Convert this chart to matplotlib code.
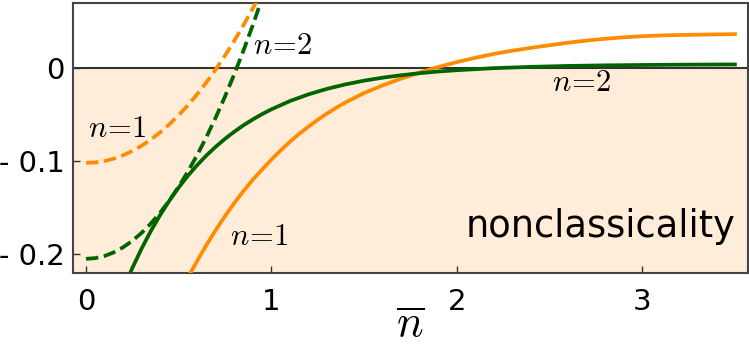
import matplotlib
matplotlib.use("Agg")
from matplotlib import pyplot as plt
from matplotlib.ticker import FixedLocator, FixedFormatter

plt.rcParams["mathtext.fontset"] = "cm"

# ------------------------------------------------------------------------------
#  Data
# ------------------------------------------------------------------------------

# dashed curves, n=1 (orange) and n=2 (green)
x_dash = [0.00, 0.05, 0.10, 0.15, 0.20, 0.25, 0.30, 0.35, 0.40, 0.45,
          0.50, 0.55, 0.60, 0.65, 0.70, 0.75, 0.80, 0.85, 0.90, 0.95]
y_dash_n1 = [-0.1020, -0.1015, -0.1000, -0.0974, -0.0938, -0.0892, -0.0836,
             -0.0769, -0.0692, -0.0605, -0.0508, -0.0400, -0.0282, -0.0154,
             -0.0016, 0.0133, 0.0292, 0.0461, 0.0640, 0.0830]
y_dash_n2 = [-0.2050, -0.2042, -0.2019, -0.1980, -0.1926, -0.1856, -0.1771,
             -0.1670, -0.1554, -0.1422, -0.1275, -0.1112, -0.0934, -0.0740,
             -0.0531, -0.0306, -0.0066, 0.0190, 0.0461, 0.0748]

# solid curve, n=2 (green)
x_sol_n2 = [0.20, 0.25, 0.30, 0.35, 0.40, 0.45, 0.50, 0.55, 0.60, 0.65,
            0.70, 0.75, 0.80, 0.85, 0.90, 0.95, 1.00, 1.10, 1.20, 1.30,
            1.40, 1.50, 1.60, 1.70, 1.80, 1.90, 2.00, 2.20, 2.40, 2.60,
            2.80, 3.00, 3.20, 3.50]
y_sol_n2 = [-0.2380, -0.2148, -0.1939, -0.1750, -0.1579, -0.1424, -0.1284,
            -0.1157, -0.1043, -0.0939, -0.0846, -0.0761, -0.0685, -0.0615,
            -0.0553, -0.0496, -0.0445, -0.0356, -0.0284, -0.0225, -0.0177,
            -0.0137, -0.0105, -0.0079, -0.0057, -0.0039, -0.0025, -0.0003,
            0.0011, 0.0021, 0.0027, 0.0031, 0.0034, 0.0037]

# solid curve, n=1 (orange)
x_sol_n1 = [0.50, 0.55, 0.60, 0.65, 0.70, 0.75, 0.80, 0.85, 0.90, 0.95,
            1.00, 1.05, 1.10, 1.15, 1.20, 1.25, 1.30, 1.35, 1.40, 1.50,
            1.60, 1.70, 1.80, 1.90, 2.00, 2.10, 2.20, 2.30, 2.40, 2.50,
            2.60, 2.70, 2.80, 2.90, 3.00, 3.10, 3.20, 3.35, 3.50]
y_sol_n1 = [-0.2430, -0.2250, -0.2070, -0.1900, -0.1740, -0.1590, -0.1450,
            -0.1320, -0.1200, -0.1090, -0.0985, -0.0885, -0.0793, -0.0708,
            -0.0630, -0.0557, -0.0490, -0.0428, -0.0370, -0.0270, -0.0188,
            -0.0115, -0.0050, 0.0010, 0.0062, 0.0108, 0.0150, 0.0185, 0.0215,
            0.0243, 0.0270, 0.0293, 0.0313, 0.0328, 0.0340, 0.0348, 0.0353,
            0.0358, 0.0362]

y_ticks = [-0.2, -0.1, 0.0]
y_ticklabels = ["- 0.2", "- 0.1", "0"]
x_ticks = [0, 1, 2, 3]

# ------------------------------------------------------------------------------
#  Plot
# ------------------------------------------------------------------------------

fig = plt.figure(figsize=(7.49, 3.48), dpi=100)
ax = fig.add_axes([0.0975, 0.216, 0.901, 0.775])

x_min, x_max = -0.07, 3.57
y_min, y_max = -0.22, 0.0695

ax.axhspan(y_min - 1, 0, color="darkorange", alpha=0.15, lw=0, zorder=0)
ax.axhline(0, color="#333333", lw=1.5, zorder=1)

lw = 2.7
dash = (3.3, 1.5)
ax.plot(x_dash, y_dash_n1, "--", color="darkorange", lw=lw, dashes=dash,
        zorder=3)
ax.plot(x_dash, y_dash_n2, "--", color="darkgreen", lw=lw, dashes=dash,
        zorder=3)
ax.plot(x_sol_n1, y_sol_n1, "-", color="darkorange", lw=lw, zorder=3)
ax.plot(x_sol_n2, y_sol_n2, "-", color="darkgreen", lw=lw, zorder=4)

ax.set_xlim(x_min, x_max)
ax.set_ylim(y_min, y_max)

ax.xaxis.set_major_locator(FixedLocator(x_ticks))
ax.yaxis.set_major_locator(FixedLocator(y_ticks))
ax.yaxis.set_major_formatter(FixedFormatter(y_ticklabels))
ax.tick_params(direction="in", length=5, width=1, labelsize=21,
               color="#333333")
ax.tick_params(axis="x", pad=11)
ax.tick_params(axis="y", pad=6)
for spine in ax.spines.values():
    spine.set_color("#444444")
    spine.set_linewidth(1.5)

ax.set_xlabel(r"$\overline{n}$", fontsize=32, labelpad=-9)

# Curve labels
lbl = dict(fontsize=22, ha="center", va="center")
ax.text(0.170, -0.065, r"$n\!=\!1$", **lbl)
ax.text(1.063, 0.024, r"$n\!=\!2$", **lbl)
ax.text(0.934, -0.181, r"$n\!=\!1$", **lbl)
ax.text(2.675, -0.016, r"$n\!=\!2$", **lbl)
ax.text(3.502, -0.1817, "nonclassicality", fontsize=26.5, ha="right",
        va="baseline")

fig.savefig("out.png", dpi=100)
